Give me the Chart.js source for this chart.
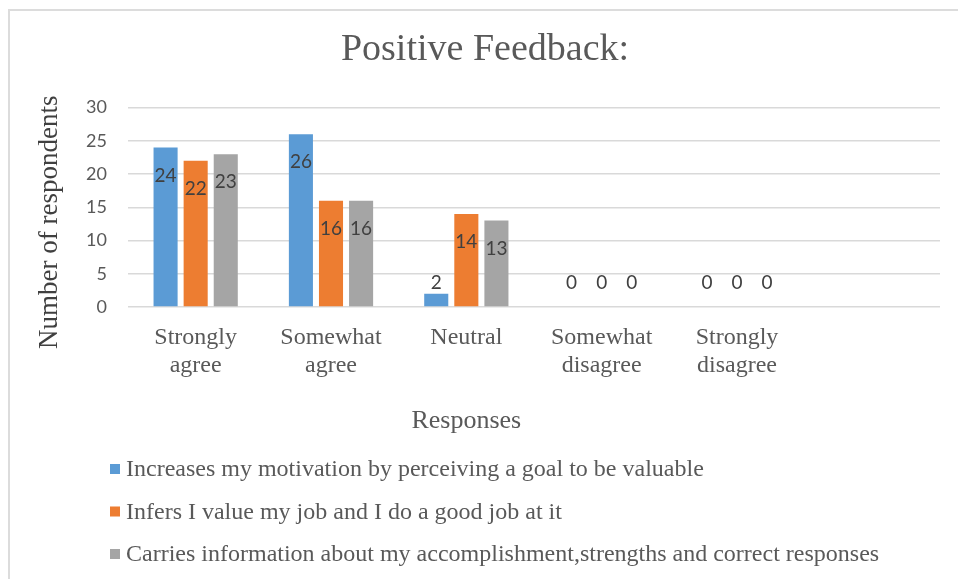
<!DOCTYPE html>
<html>
<head>
<meta charset="utf-8">
<title>Positive Feedback</title>
<script src="https://cdn.jsdelivr.net/npm/chart.js@4.4.1/dist/chart.umd.min.js"></script>
<style>
  body { margin: 0; background: #fff; }
  #wrap { position: relative; width: 958px; height: 579px; overflow: hidden; }
  #frame { position: absolute; left: 8px; top: 9px; width: 980px; height: 600px;
           border-left: 2px solid #dcdcdc; border-top: 2px solid #dcdcdc; }
  canvas { position: absolute; left: 0; top: 0; }
</style>
</head>
<body>
<div id="wrap">
  <div id="frame"></div>
  <canvas id="chart" width="958" height="579"></canvas>
</div>
<script>
// categories (last slot is empty in the original)
var categories = [["Strongly", "agree"], ["Somewhat", "agree"], "Neutral", ["Somewhat", "disagree"], ["Strongly", "disagree"], ""];
var seriesNames = [
    "Increases my motivation by perceiving a goal to be valuable",
    "Infers I value my job and I do a good job at it",
    "Carries information about my accomplishment,strengths and correct responses"
];
var motivation = [24, 26, 2, 0, 0, null];
var valueJob = [22, 16, 14, 0, 0, null];
var carriesInfo = [23, 16, 13, 0, 0, null];
var yTicks = [0, 5, 10, 15, 20, 25, 30];
var xTitle = "Responses";
var yTitle = "Number of respondents";

var colors = ["#5B9BD5", "#ED7D31", "#A5A5A5"];
var serif = "'Liberation Serif', 'Times New Roman', serif";
var sans = "Lato, 'Liberation Sans', sans-serif";

// value labels: inside near the top, or above the baseline when the bar is too short
var barLabels = {
    id: "barLabels",
    afterDatasetsDraw: function (chart) {
        var ctx = chart.ctx;
        var base = chart.scales.y.getPixelForValue(0);
        ctx.save();
        ctx.font = "19px " + sans;
        ctx.fillStyle = "#404040";
        ctx.textAlign = "center";
        ctx.textBaseline = "middle";
        chart.data.datasets.forEach(function (ds, i) {
            var meta = chart.getDatasetMeta(i);
            meta.data.forEach(function (bar, j) {
                var v = ds.data[j];
                if (v === null || v === undefined) return;
                var y = v >= 5 ? bar.y + 28 : base - 24;
                ctx.fillText(String(v), bar.x, y);
            });
        });
        ctx.restore();
    }
};

// axis titles: centred on the filled categories like the original
var axisTitles = {
    id: "axisTitles",
    afterDraw: function (chart) {
        var ctx = chart.ctx;
        var xs = chart.scales.x, ys = chart.scales.y;
        ctx.save();
        ctx.textAlign = "center";
        ctx.textBaseline = "middle";
        ctx.font = "26px " + serif;
        ctx.fillStyle = "#595959";
        var cx = (xs.getPixelForValue(0) + xs.getPixelForValue(4)) / 2;
        ctx.fillText(xTitle, cx, xs.bottom - 18);

        ctx.font = "27px " + serif;
        ctx.fillStyle = "#404040";
        ctx.translate(ys.left + 20, (ys.top + ys.bottom) / 2 + 15);
        ctx.rotate(-Math.PI / 2);
        ctx.fillText(yTitle, 0, 0);
        ctx.restore();
    }
};

// legend stacked under the chart, one entry per line
var stackedLegend = {
    id: "stackedLegend",
    afterDraw: function (chart) {
        var ctx = chart.ctx;
        ctx.save();
        ctx.font = "24px " + serif;
        ctx.textBaseline = "middle";
        chart.data.datasets.forEach(function (ds, i) {
            var y = 469 + i * 42.5;
            ctx.fillStyle = ds.backgroundColor;
            ctx.fillRect(110, y - 5, 10, 10);
            ctx.fillStyle = "#595959";
            ctx.fillText(ds.label, 126, y + 1);
        });
        ctx.restore();
    }
};

var datasets = [motivation, valueJob, carriesInfo].map(function (vals, i) {
    return {
        label: seriesNames[i],
        data: vals,
        backgroundColor: colors[i],
        categoryPercentage: 0.667,
        barPercentage: 0.8
    };
});

new Chart(document.getElementById("chart"), {
    type: "bar",
    data: { labels: categories, datasets: datasets },
    plugins: [barLabels, axisTitles, stackedLegend],
    options: {
        responsive: false,
        animation: false,
        layout: { padding: { left: 30, right: 18, top: 10, bottom: 140 } },
        plugins: {
            legend: { display: false },
            tooltip: { enabled: false },
            title: {
                display: true,
                text: "Positive Feedback:",
                color: "#595959",
                font: { family: serif, size: 38, weight: "normal" },
                padding: { top: 17, bottom: 35 }
            }
        },
        scales: {
            x: {
                grid: { display: false },
                border: { display: false },
                ticks: {
                    color: "#595959",
                    font: { family: serif, size: 24, lineHeight: 1.17 },
                    padding: 9,
                    maxRotation: 0,
                    autoSkip: false
                },
                afterFit: function (scale) { scale.height = 132; }
            },
            y: {
                min: 0,
                max: 30,
                afterBuildTicks: function (scale) {
                    scale.ticks = yTicks.map(function (v) { return { value: v }; });
                },
                grid: { color: "#d9d9d9", lineWidth: 1.5, drawTicks: false },
                border: { display: false },
                ticks: {
                    color: "#595959",
                    font: { family: sans, size: 18 },
                    padding: 21
                },
                afterFit: function (scale) { scale.width = 98; }
            }
        }
    }
});
</script>
</body>
</html>
